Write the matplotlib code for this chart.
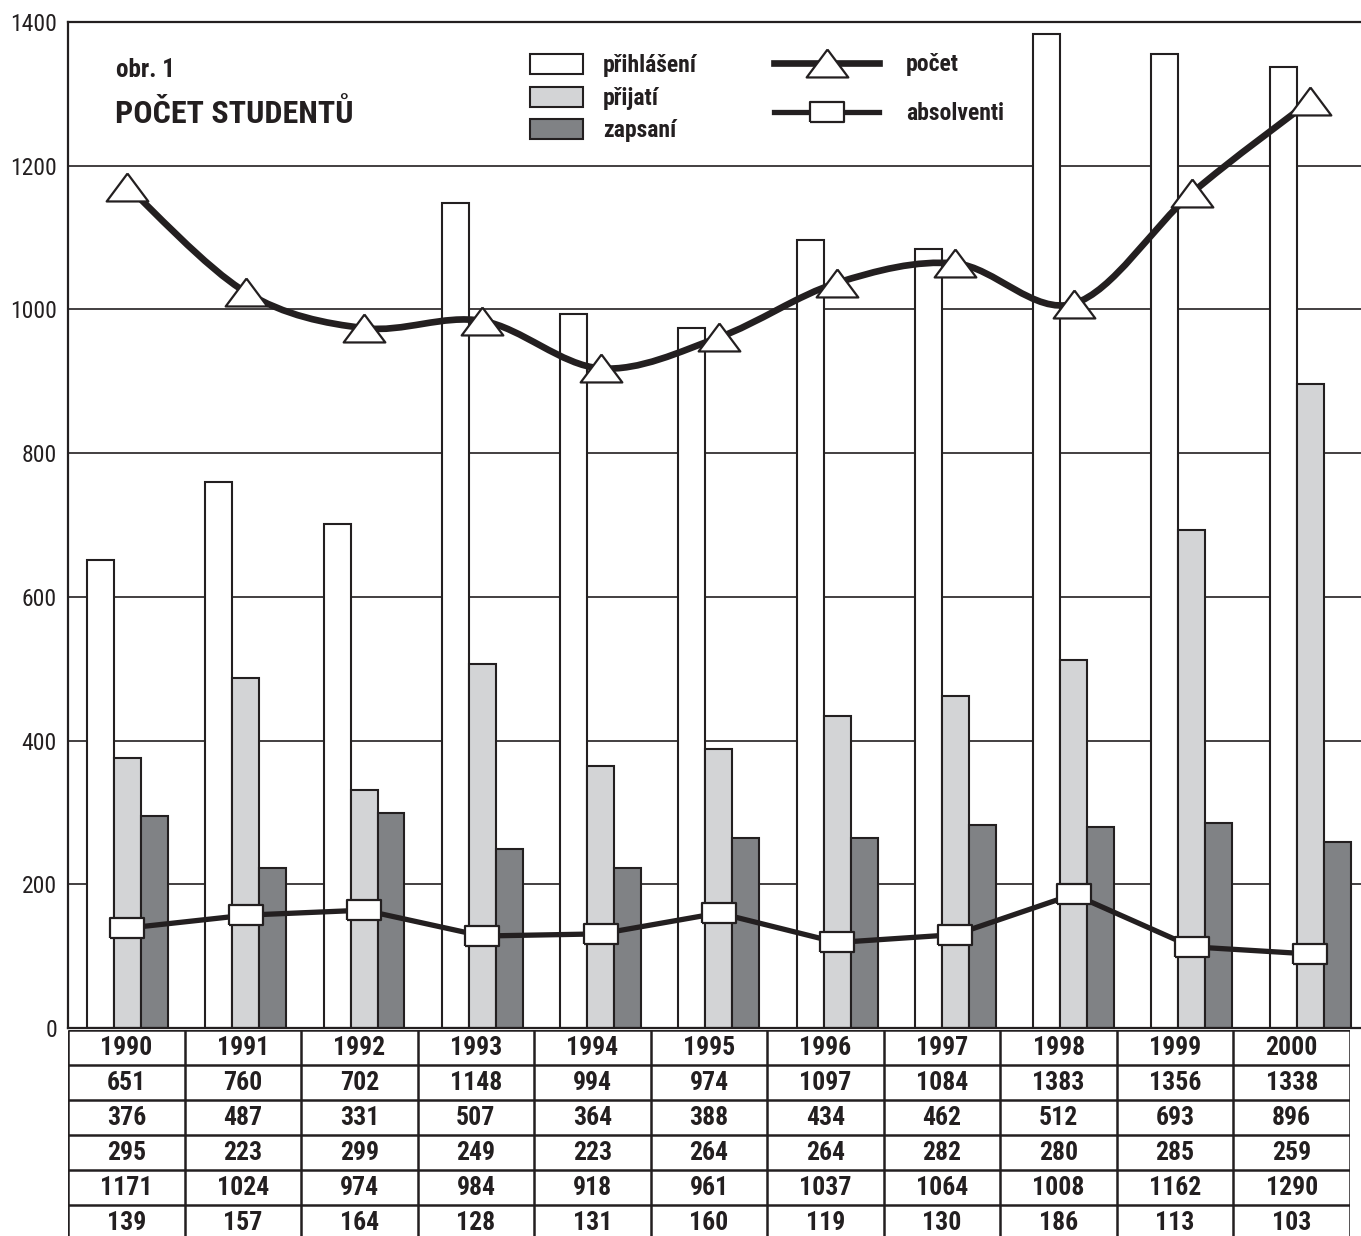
import numpy as np
import matplotlib
matplotlib.use("Agg")
import matplotlib.pyplot as plt
from matplotlib.patches import Patch, PathPatch
from matplotlib.lines import Line2D
from matplotlib.path import Path

# počty studentů po letech
roky = ["1990", "1991", "1992", "1993", "1994", "1995", "1996", "1997", "1998", "1999", "2000"]
prihlaseni = [651, 760, 702, 1148, 994, 974, 1097, 1084, 1383, 1356, 1338]
prijati = [376, 487, 331, 507, 364, 388, 434, 462, 512, 693, 896]
zapsani = [295, 223, 299, 249, 223, 264, 264, 282, 280, 285, 259]
pocet = [1171, 1024, 974, 984, 918, 961, 1037, 1064, 1008, 1162, 1290]
absolventi = [139, 157, 164, 128, 131, 160, 119, 130, 186, 113, 103]

CERNA = "#231f20"
SVETLA = "#d3d4d6"
TMAVA = "#808285"
plt.rcParams["font.family"] = ["Roboto Condensed", "DejaVu Sans"]

W, H = 1361, 1236
fig = plt.figure(figsize=(W / 100, H / 100), dpi=100)

# hlavní graf
ax = fig.add_axes([68 / W, (H - 1028) / H, (W - 68) / W, (1028 - 22) / H])
x = np.arange(len(roky))
w = 0.228
ax.bar(x - w, prihlaseni, w, color="white", edgecolor=CERNA, linewidth=1.5, zorder=2)
ax.bar(x, prijati, w, color=SVETLA, edgecolor=CERNA, linewidth=1.5, zorder=2)
ax.bar(x + w, zapsani, w, color=TMAVA, edgecolor=CERNA, linewidth=1.5, zorder=2)


def hladka_cesta(xs, ys):
    # Catmull-Rom převedený na kubické Bézierovy úseky
    xs = np.asarray(xs, float)
    ys = np.asarray(ys, float)
    verts = [(xs[0], ys[0])]
    codes = [Path.MOVETO]
    n = len(xs)
    for i in range(n - 1):
        p0 = (xs[max(i - 1, 0)], ys[max(i - 1, 0)])
        p1 = (xs[i], ys[i])
        p2 = (xs[i + 1], ys[i + 1])
        p3 = (xs[min(i + 2, n - 1)], ys[min(i + 2, n - 1)])
        c1 = (p1[0] + (p2[0] - p0[0]) / 6, p1[1] + (p2[1] - p0[1]) / 6)
        c2 = (p2[0] - (p3[0] - p1[0]) / 6, p2[1] - (p3[1] - p1[1]) / 6)
        verts += [c1, c2, p2]
        codes += [Path.CURVE4] * 3
    return Path(verts, codes)


trojuhelnik = [(0, 0.67), (-1, -0.67), (1, -0.67), (0, 0.67)]
obdelnik = [(-1, -0.6), (1, -0.6), (1, 0.6), (-1, 0.6), (-1, -0.6)]

ax.add_patch(PathPatch(hladka_cesta(x, pocet), facecolor="none", edgecolor=CERNA,
                       linewidth=4.8, capstyle="round", zorder=3))
ax.plot(x, pocet, linestyle="none", marker=trojuhelnik, markersize=30,
        markerfacecolor="white", markeredgecolor=CERNA, markeredgewidth=1.6, zorder=4)
ax.plot(x, absolventi, color=CERNA, linewidth=3.8, marker=obdelnik, markersize=25,
        markerfacecolor="white", markeredgecolor=CERNA, markeredgewidth=1.6, zorder=4)

ax.set_xlim(-0.503, 10.43)
ax.set_ylim(0, 1400)
ax.set_yticks(range(0, 1401, 200))
ax.set_xticks([])
ax.tick_params(axis="y", length=0, pad=8, labelsize=17, labelcolor=CERNA)
ax.grid(axis="y", color=CERNA, linewidth=1.2)
ax.set_axisbelow(True)
ax.spines["right"].set_visible(False)
for s in ["left", "top", "bottom"]:
    ax.spines[s].set_color(CERNA)
    ax.spines[s].set_linewidth(1.6)

ax.text(0.037, 0.952, "obr. 1", transform=ax.transAxes, fontsize=18,
        fontweight="bold", color=CERNA, va="center", ha="left")
ax.text(0.036, 0.909, "POČET STUDENTŮ", transform=ax.transAxes, fontsize=23,
        fontweight="bold", color=CERNA, va="center", ha="left")

# legendy
h_bar = [Patch(facecolor=c, edgecolor=CERNA, linewidth=1.5) for c in ["white", SVETLA, TMAVA]]
leg1 = fig.legend(h_bar, ["přihlášení", "přijatí", "zapsaní"], loc="upper left",
                  bbox_to_anchor=(530 / W, 1 - 54 / H), frameon=False,
                  prop={"size": 17, "weight": "bold"}, handlelength=2.25,
                  handleheight=0.93, handletextpad=0.85, labelspacing=0.4,
                  borderpad=0, borderaxespad=0)
h_line = [Line2D([], [], color=CERNA, linewidth=4.8, marker=trojuhelnik, markersize=30,
                 markerfacecolor="white", markeredgecolor=CERNA, markeredgewidth=1.6),
          Line2D([], [], color=CERNA, linewidth=3.8, marker=obdelnik, markersize=25,
                 markerfacecolor="white", markeredgecolor=CERNA, markeredgewidth=1.6)]
leg2 = fig.legend(h_line, ["počet", "absolventi"], loc="upper left",
                  bbox_to_anchor=(774 / W, 1 - 53 / H), frameon=False,
                  prop={"size": 17, "weight": "bold"}, handlelength=4.45,
                  handletextpad=1.15, labelspacing=1.12, numpoints=1,
                  borderpad=0, borderaxespad=0)
for leg in (leg1, leg2):
    for t in leg.get_texts():
        t.set_color(CERNA)

# tabulka hodnot pod grafem
tx = fig.add_axes([68 / W, (H - 1240) / H, (1350 - 68) / W, 210 / H])
radky = [roky, prihlaseni, prijati, zapsani, pocet, absolventi]
tx.set_xlim(0, len(roky))
tx.set_ylim(len(radky), 0)
tx.axis("off")
tx.hlines(range(len(radky) + 1), 0, len(roky), color=CERNA, linewidth=1.8)
tx.vlines(range(len(roky) + 1), 0, len(radky), color=CERNA, linewidth=1.8)
for r, hodnoty in enumerate(radky):
    for c, v in enumerate(hodnoty):
        tx.text(c + 0.5, r + 0.52, str(v), ha="center", va="center", fontsize=18.5,
                fontweight="bold", color=CERNA)

fig.savefig("out.png", dpi=100)
